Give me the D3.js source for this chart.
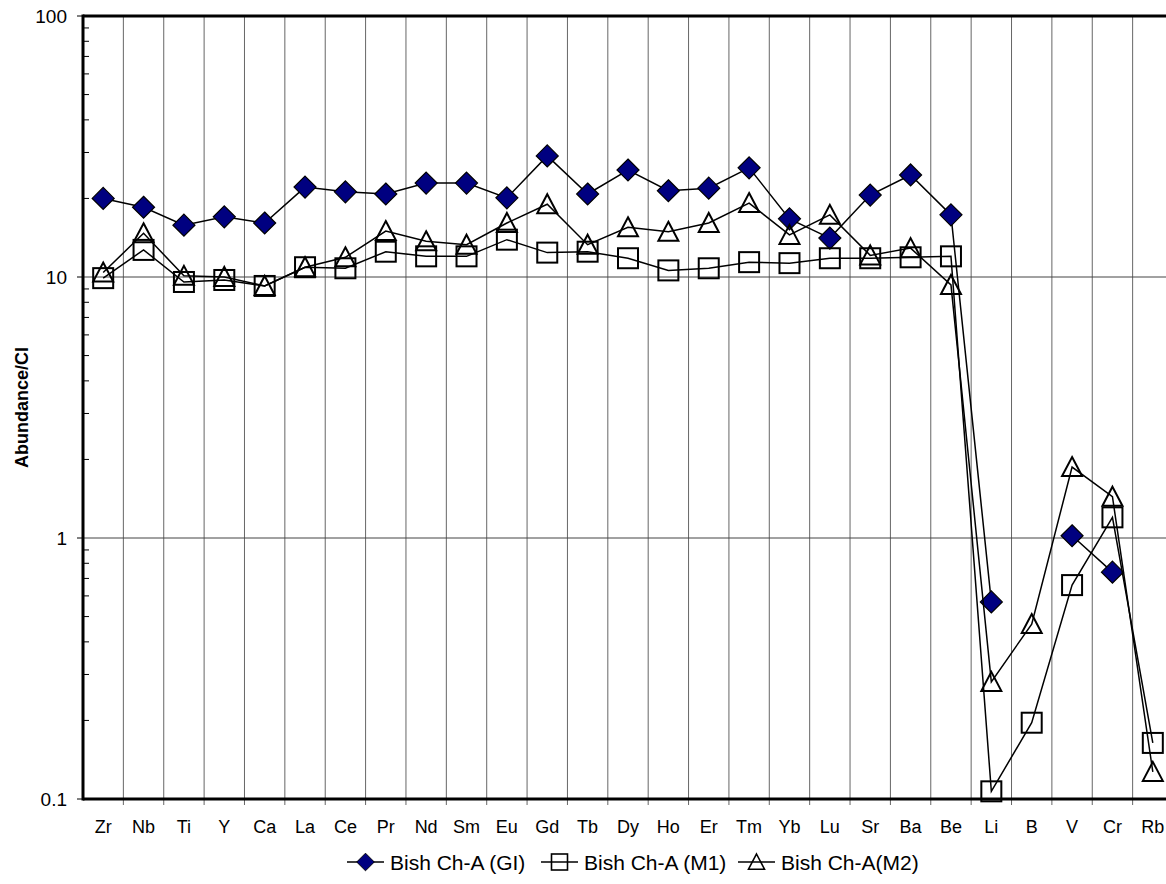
<!DOCTYPE html>
<html>
<head>
<meta charset="utf-8">
<script src="https://cdn.jsdelivr.net/npm/d3@7"></script>
<style>
    body { margin: 0; background: #fff; }
    svg { display: block; font-family: "Liberation Sans", Arial, sans-serif; }
</style>
</head>
<body>
<svg class="spider"></svg>
<script>
(function () {
    // Categories (elements) along the x axis
    const elements = ["Zr", "Nb", "Ti", "Y", "Ca", "La", "Ce", "Pr", "Nd", "Sm", "Eu", "Gd", "Tb",
        "Dy", "Ho", "Er", "Tm", "Yb", "Lu", "Sr", "Ba", "Be", "Li", "B", "V", "Cr", "Rb"];

    // Abundance / CI (null = no value)
    const bishGI = [20.0, 18.5, 15.8, 17.0, 16.1, 22.1, 21.2, 20.8, 22.9, 22.9, 20.1, 29.1, 20.8,
        25.7, 21.4, 21.9, 26.2, 16.7, 14.1, 20.6, 24.6, 17.3, 0.569, null, 1.02, 0.74, null];
    const bishM1 = [9.9, 12.7, 9.57, 9.74, 9.24, 10.9, 10.8, 12.5, 12.0, 12.0, 13.9, 12.4, 12.5,
        11.8, 10.6, 10.8, 11.4, 11.3, 11.8, 11.8, 11.9, 12.0, 0.107, 0.196, 0.66, 1.20, 0.164];
    const bishM2 = [10.4, 14.7, 10.1, 10.0, 9.24, 10.9, 11.9, 15.0, 13.7, 13.3, 16.1, 19.0, 13.3,
        15.5, 14.9, 16.1, 19.2, 14.5, 17.3, 12.1, 12.9, 9.32, 0.281, 0.468, 1.87, 1.44, 0.127];

    const seriesNames = ["Bish Ch-A (GI)", "Bish Ch-A (M1)", "Bish Ch-A(M2)"];
    const yTicks = [0.1, 1, 10, 100];
    const yTickLabels = ["0.1", "1", "10", "100"];

    const width = 1166, height = 884;
    const margin = { left: 83, top: 16, right: -7, bottom: 85 };

    let svg = d3.select("svg.spider")
        .attr("width", width)
        .attr("height", height);

    let x = d3.scaleBand()
        .domain(elements)
        .range([margin.left, width - margin.right])
        .paddingInner(0).paddingOuter(0);
    let y = d3.scaleLog()
        .domain([0.1, 100])
        .range([height - margin.bottom, margin.top]);

    const bw = x.bandwidth();
    const cx = function (i) { return x(elements[i]) + bw / 2; };
    const y0 = height - margin.bottom, y1 = margin.top;

    // vertical grid lines at category boundaries
    let bounds = elements.map(function (d) { return x(d); }).slice(1).concat([x(elements[elements.length - 1]) + bw]);
    svg.append("g").selectAll("line")
        .data(bounds)
        .enter().append("line")
        .attr("x1", function (d) { return d; })
        .attr("x2", function (d) { return d; })
        .attr("y1", y1)
        .attr("y2", y0 + 6)
        .attr("stroke", "#666")
        .attr("stroke-width", 1);

    // horizontal grid lines
    svg.append("g").selectAll("line")
        .data([1, 10])
        .enter().append("line")
        .attr("x1", margin.left)
        .attr("x2", width)
        .attr("y1", function (d) { return y(d); })
        .attr("y2", function (d) { return y(d); })
        .attr("stroke", "#444")
        .attr("stroke-width", 1);

    // left axis: major ticks outside, minor ticks inside
    let minor = [];
    [0.1, 1, 10].forEach(function (dec) {
        for (let k = 2; k <= 9; k++) minor.push(dec * k);
    });
    svg.append("g").selectAll("line")
        .data(minor)
        .enter().append("line")
        .attr("x1", margin.left)
        .attr("x2", margin.left + 6)
        .attr("y1", function (d) { return y(d); })
        .attr("y2", function (d) { return y(d); })
        .attr("stroke", "#000")
        .attr("stroke-width", 1);
    svg.append("g").selectAll("line")
        .data(yTicks)
        .enter().append("line")
        .attr("x1", margin.left - 6)
        .attr("x2", margin.left)
        .attr("y1", function (d) { return y(d); })
        .attr("y2", function (d) { return y(d); })
        .attr("stroke", "#000")
        .attr("stroke-width", 1);
    svg.append("g").selectAll("text")
        .data(yTicks)
        .enter().append("text")
        .attr("x", margin.left - 16)
        .attr("y", function (d) { return y(d); })
        .attr("dy", "0.36em")
        .attr("text-anchor", "end")
        .style("font-size", "19px")
        .text(function (d, i) { return yTickLabels[i]; });

    // x labels
    svg.append("g").selectAll("text")
        .data(elements)
        .enter().append("text")
        .attr("x", function (d, i) { return cx(i); })
        .attr("y", y0 + 34)
        .attr("text-anchor", "middle")
        .style("font-size", "18px")
        .text(function (d) { return d; });

    // frame
    svg.append("line").attr("x1", margin.left).attr("x2", margin.left)
        .attr("y1", y1 - 1.5).attr("y2", y0 + 1.5)
        .attr("stroke", "#000").attr("stroke-width", 3);
    svg.append("line").attr("x1", margin.left).attr("x2", width)
        .attr("y1", y0).attr("y2", y0)
        .attr("stroke", "#000").attr("stroke-width", 3);
    svg.append("line").attr("x1", margin.left).attr("x2", width)
        .attr("y1", y1).attr("y2", y1)
        .attr("stroke", "#000").attr("stroke-width", 3);

    // y axis title
    svg.append("text")
        .attr("transform", "translate(28," + ((y0 + y1) / 2) + ") rotate(-90)")
        .attr("text-anchor", "middle")
        .style("font-size", "18px")
        .style("font-weight", "bold")
        .text("Abundance/CI");

    // markers
    function marker(sel, type) {
        if (type === "diamond") {
            sel.append("path")
                .attr("d", "M0,-11L11,0L0,11L-11,0Z")
                .attr("fill", "#000080")
                .attr("stroke", "#000")
                .attr("stroke-width", 1.2);
        } else if (type === "square") {
            sel.append("rect")
                .attr("x", -10).attr("y", -10)
                .attr("width", 20).attr("height", 20)
                .attr("fill", "none")
                .attr("stroke", "#000")
                .attr("stroke-width", 2);
        } else {
            sel.append("path")
                .attr("d", "M0,-10L10,9L-10,9Z")
                .attr("fill", "none")
                .attr("stroke", "#000")
                .attr("stroke-width", 2);
        }
    }

    const seriesData = [bishGI, bishM1, bishM2];
    const markerTypes = ["diamond", "square", "triangle"];

    let line = d3.line()
        .defined(function (d) { return d != null; })
        .x(function (d, i) { return cx(i); })
        .y(function (d) { return y(d); });

    seriesData.forEach(function (values, s) {
        let g = svg.append("g").attr("class", "series");
        g.append("path")
            .attr("d", line(values))
            .attr("fill", "none")
            .attr("stroke", "#000")
            .attr("stroke-width", 1.5);
        g.selectAll(".pt")
            .data(values.map(function (v, i) { return { v: v, i: i }; })
                .filter(function (d) { return d.v != null; }))
            .enter().append("g")
            .attr("class", "pt")
            .attr("transform", function (d) { return "translate(" + cx(d.i) + "," + y(d.v) + ")"; })
            .call(marker, markerTypes[s]);
    });

    // legend
    const legendX = [347, 541, 738];
    const legendY = 862;
    let legend = svg.append("g").attr("class", "legend");
    seriesNames.forEach(function (name, s) {
        let item = legend.append("g").attr("transform", "translate(" + legendX[s] + "," + legendY + ")");
        item.append("line")
            .attr("x1", 0).attr("x2", 37)
            .attr("y1", 0).attr("y2", 0)
            .attr("stroke", "#000").attr("stroke-width", 1.5);
        item.append("g").attr("transform", "translate(18.5,0) scale(0.8)").call(marker, markerTypes[s]);
        item.append("text")
            .attr("x", 43)
            .attr("y", 0)
            .attr("dy", "0.36em")
            .style("font-size", "21px")
            .text(name);
    });
}());
</script>
</body>
</html>
